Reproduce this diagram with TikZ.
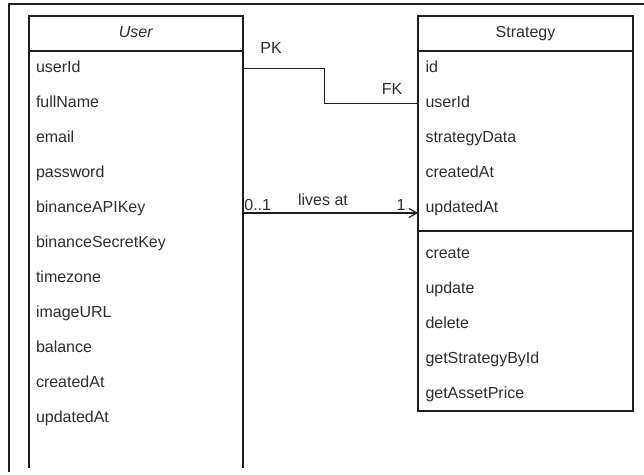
\documentclass[tikz,border=0pt]{standalone}
\usepackage{fontspec}
\setmainfont{Liberation Sans}
\usetikzlibrary{positioning,arrows.meta}
\definecolor{umlline}{HTML}{1E1E1E}
\definecolor{umltext}{HTML}{2E2E2E}
\tikzset{
  frameline/.style={line width=1pt, draw=umlline},
  classbox/.style={line width=0.55pt, draw=umlline},
  attr/.style={inner xsep=3.5pt, inner ysep=0pt, minimum height=17.5pt,
    text width=100pt, align=left, text=umltext,
    text height=6pt, text depth=1.8pt,
    font=\fontsize{8}{9.6}\selectfont},
  header/.style={inner sep=0pt, text=umltext, text height=6pt, text depth=1.8pt,
    font=\fontsize{8}{9.6}\selectfont},
  lbl/.style={inner sep=0pt, text=umltext, font=\fontsize{8}{9.6}\selectfont},
  link/.style={line width=0.6pt, draw=umlline}
}
\begin{document}
\begin{tikzpicture}[x=0.5pt,y=-0.5pt]
\useasboundingbox (0,0) rectangle (644,475);
% draw the outer frame (left and top edges only)
\draw[frameline] (8.5,472) -- (8.5,4.5) -- (644,4.5);

% draw the User class
\draw[classbox] (29,468) -- (29,16) -- (243,16) -- (243,468);
\draw[classbox] (29,51) -- (243,51);
\node[header] (user) at (136,33.5) {\textit{User}};
\foreach \name [count=\i] in {userId,fullName,email,password,binanceAPIKey,
  binanceSecretKey,timezone,imageURL,balance,createdAt,updatedAt}
  \node[attr] (u\i) at (136,33.5+35*\i) {\name};

% draw the Strategy class
\draw[classbox] (418,16) rectangle (633,411);
\draw[classbox] (418,51) -- (633,51);
\draw[classbox] (418,231) -- (633,231);
\node[header] (strategy) at (525.5,33.5) {Strategy};
\foreach \name [count=\i] in {id,userId,strategyData,createdAt,updatedAt}
  \node[attr] (s\i) at (525.5,33.5+35*\i) {\name};
\foreach \name [count=\i] in {create,update,delete,getStrategyById,getAssetPrice}
  \node[attr] (m\i) at (525.5,219+35*\i) {\name};

% draw the key link
\draw[link] (u1.east) -- ++(81,0) |- (s2.west);
\node[lbl] (pk) at (271,48) {PK};
\node[lbl] (fk) at (392,89) {FK};

% draw the association
\draw[link, -{Straight Barb[length=4pt,width=4.5pt]}]
  ([yshift=-2.25pt]u5.east) -- ([yshift=-2.25pt]s5.west);
\node[lbl, anchor=base west] (mult0) at (244,211) {0..1};
\node[lbl, anchor=base] (lives) at (323,206) {lives at};
\node[lbl, anchor=base] (mult1) at (401,211) {1};
\end{tikzpicture}
\end{document}
